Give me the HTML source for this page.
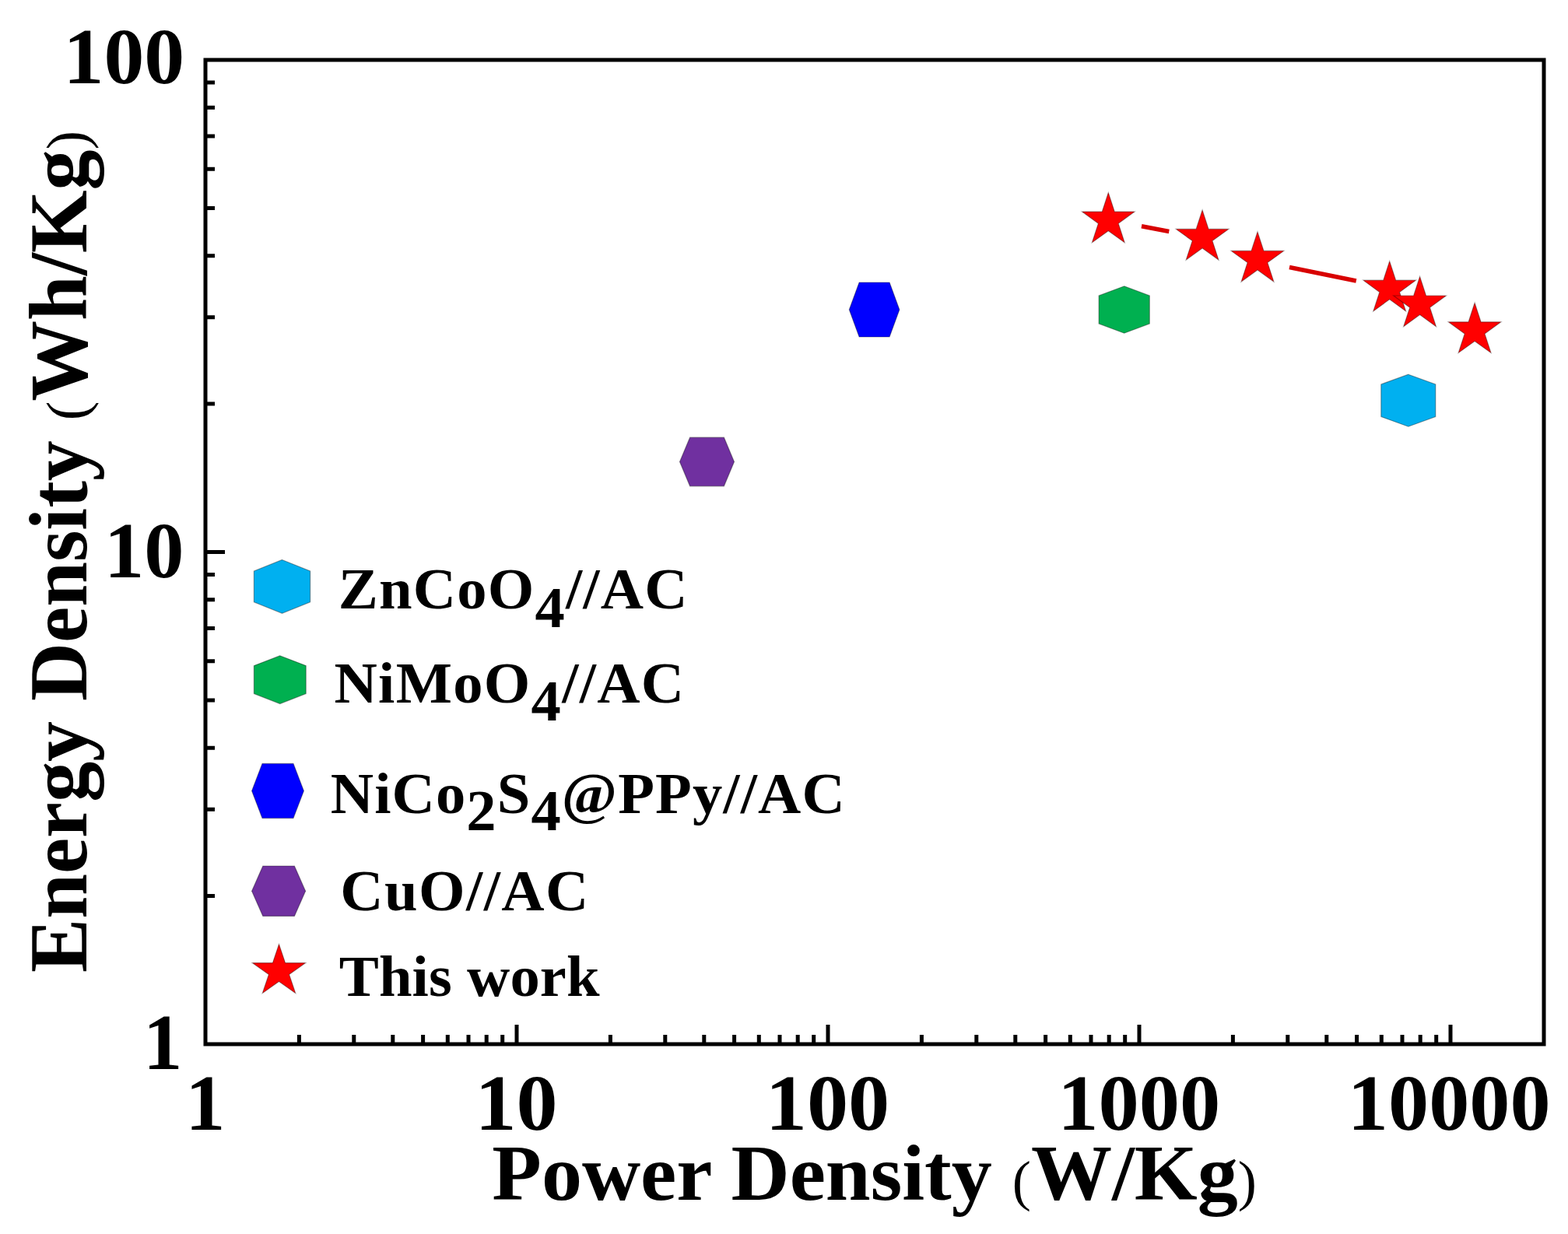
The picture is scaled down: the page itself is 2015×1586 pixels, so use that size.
<!DOCTYPE html>
<html><head><meta charset="utf-8"><title>Energy Density vs Power Density</title>
<style>html,body{margin:0;padding:0;background:#fff;overflow:hidden;}svg{display:block;}</style>
</head><body>
<svg width="2015" height="1586" viewBox="0 0 2015 1586">
<rect x="0" y="0" width="2015" height="1586" fill="#fff"/>
<path d="M384.4 1342V1330 M454.8 1342V1330 M504.8 1342V1330 M543.6 1342V1330 M575.3 1342V1330 M602.0 1342V1330 M625.2 1342V1330 M645.7 1342V1330 M664.0 1342V1317 M784.4 1342V1330 M854.8 1342V1330 M904.8 1342V1330 M943.6 1342V1330 M975.3 1342V1330 M1002.0 1342V1330 M1025.2 1342V1330 M1045.7 1342V1330 M1064.0 1342V1317 M1184.4 1342V1330 M1254.8 1342V1330 M1304.8 1342V1330 M1343.6 1342V1330 M1375.3 1342V1330 M1402.0 1342V1330 M1425.2 1342V1330 M1445.7 1342V1330 M1464.0 1342V1317 M1584.4 1342V1330 M1654.8 1342V1330 M1704.8 1342V1330 M1743.6 1342V1330 M1775.3 1342V1330 M1802.0 1342V1330 M1825.2 1342V1330 M1845.7 1342V1330 M1864.0 1342V1317 M264 1151.6H276 M264 1040.2H276 M264 961.2H276 M264 899.9H276 M264 849.8H276 M264 807.5H276 M264 770.8H276 M264 738.4H276 M264 709.5H289 M264 519.1H276 M264 407.7H276 M264 328.7H276 M264 267.4H276 M264 217.3H276 M264 175.0H276 M264 138.3H276 M264 105.9H276" stroke="#000" stroke-width="5" fill="none"/>
<rect x="264" y="77" width="1720" height="1265" fill="none" stroke="#000" stroke-width="5"/>
<text transform="translate(238.20,1452.30)" x="0" y="0" font-family="'Liberation Serif', serif" font-size="101" font-weight="bold" textLength="51.20" lengthAdjust="spacingAndGlyphs">1</text>
<text transform="translate(610.50,1452.30)" x="0" y="0" font-family="'Liberation Serif', serif" font-size="101" font-weight="bold" textLength="106.14" lengthAdjust="spacingAndGlyphs">10</text>
<text transform="translate(983.79,1452.30)" x="0" y="0" font-family="'Liberation Serif', serif" font-size="101" font-weight="bold" textLength="159.46" lengthAdjust="spacingAndGlyphs">100</text>
<text transform="translate(1359.13,1452.30)" x="0" y="0" font-family="'Liberation Serif', serif" font-size="101" font-weight="bold" textLength="209.05" lengthAdjust="spacingAndGlyphs">1000</text>
<text transform="translate(1731.85,1452.30)" x="0" y="0" font-family="'Liberation Serif', serif" font-size="101" font-weight="bold" textLength="260.72" lengthAdjust="spacingAndGlyphs">10000</text>
<text transform="translate(81.49,107.10)" x="0" y="0" font-family="'Liberation Serif', serif" font-size="101" font-weight="bold" textLength="155.66" lengthAdjust="spacingAndGlyphs">100</text>
<text transform="translate(134.00,741.90)" x="0" y="0" font-family="'Liberation Serif', serif" font-size="101" font-weight="bold" textLength="102.40" lengthAdjust="spacingAndGlyphs">10</text>
<text transform="translate(183.93,1373.90)" x="0" y="0" font-family="'Liberation Serif', serif" font-size="101" font-weight="bold" textLength="50.39" lengthAdjust="spacingAndGlyphs">1</text>
<text transform="translate(632.33,1542.20)" x="0" y="0" font-family="'Liberation Serif', serif" font-size="102" font-weight="bold" textLength="982.65" lengthAdjust="spacingAndGlyphs">Power Density <tspan font-size="71" font-weight="normal">(</tspan>W/Kg<tspan font-size="71" font-weight="normal">)</tspan></text>
<text transform="translate(111.30,1250.08) rotate(-90)" x="0" y="0" font-family="'Liberation Serif', serif" font-size="105" font-weight="bold" textLength="1082.11" lengthAdjust="spacingAndGlyphs">Energy Density <tspan font-size="74.5" font-weight="normal">(</tspan>Wh/Kg<tspan font-size="74.5" font-weight="normal">)</tspan></text>
<g stroke="#d80000" stroke-width="5.5" stroke-linecap="butt">
<line x1="1467" y1="290.8" x2="1502.3" y2="297.5"/>
<line x1="1657" y1="343.5" x2="1742.8" y2="361"/>
</g>
<g stroke="#000" stroke-width="1.2" stroke-opacity="0.35" stroke-linejoin="miter">
<polygon points="1091.3,398.0 1104.1,363.0 1143.1,363.0 1155.9,398.0 1143.1,433.0 1104.1,433.0" fill="#0000ff"/>
<polygon points="873.5,593.5 886.6,562.2 930.4,562.2 943.5,593.5 930.4,624.8 886.6,624.8" fill="#7030a0"/>
<polygon points="1444.7,367.8 1477.3,380.0 1477.3,416.0 1444.7,428.2 1412.1,416.0 1412.1,380.0" fill="#00b050"/>
<polygon points="1809.8,481.2 1844.8,493.9 1844.8,535.5 1809.8,548.2 1774.8,535.5 1774.8,493.9" fill="#00b0f0"/>
<polygon points="1424.3,247.6 1432.3,272.1 1458.1,272.1 1437.2,287.3 1445.2,311.8 1424.3,296.7 1403.4,311.8 1411.4,287.3 1390.5,272.1 1416.3,272.1" fill="#ff0000"/>
<polygon points="1545.1,269.9 1553.1,294.4 1578.9,294.4 1558.0,309.6 1566.0,334.1 1545.1,319.0 1524.2,334.1 1532.2,309.6 1511.3,294.4 1537.1,294.4" fill="#ff0000"/>
<polygon points="1616.0,297.9 1624.0,322.4 1649.8,322.4 1628.9,337.6 1636.9,362.1 1616.0,347.0 1595.1,362.1 1603.1,337.6 1582.2,322.4 1608.0,322.4" fill="#ff0000"/>
<polygon points="1785.7,335.7 1793.7,360.2 1819.5,360.2 1798.6,375.4 1806.6,399.9 1785.7,384.8 1764.8,399.9 1772.8,375.4 1751.9,360.2 1777.7,360.2" fill="#ff0000"/>
<polygon points="1824.6,355.5 1832.6,380.0 1858.4,380.0 1837.5,395.2 1845.5,419.7 1824.6,404.6 1803.7,419.7 1811.7,395.2 1790.8,380.0 1816.6,380.0" fill="#ff0000"/>
<polygon points="1895.1,389.3 1903.1,413.8 1928.9,413.8 1908.0,429.0 1916.0,453.5 1895.1,438.4 1874.2,453.5 1882.2,429.0 1861.3,413.8 1887.1,413.8" fill="#ff0000"/>
<polygon points="362.5,719.5 398.6,734.0 398.6,773.8 362.5,788.3 326.4,773.8 326.4,734.0" fill="#00b0f0"/>
<polygon points="359.8,842.7 393.2,855.6 393.2,891.6 359.8,904.5 326.4,891.6 326.4,855.6" fill="#00b050"/>
<polygon points="323.6,1016.5 337.0,981.4 377.0,981.4 390.4,1016.5 377.0,1051.6 337.0,1051.6" fill="#0000ff"/>
<polygon points="323.6,1145.2 337.8,1113.0 378.4,1113.0 392.6,1145.2 378.4,1177.4 337.8,1177.4" fill="#7030a0"/>
<polygon points="358.5,1213.6 366.6,1237.6 392.7,1237.6 371.6,1252.4 379.7,1276.4 358.5,1261.6 337.3,1276.4 345.4,1252.4 324.3,1237.6 350.4,1237.6" fill="#ff0000"/>
</g>
<text transform="translate(434.84,781.50) scale(1.035,1)" x="0" y="0" font-family="'Liberation Serif', serif" font-size="74" font-weight="bold" textLength="433.53" lengthAdjust="spacing">ZnCoO<tspan dy="24.1">4</tspan><tspan dy="-24.1">//AC</tspan></text>
<text transform="translate(429.54,903.40) scale(1.035,1)" x="0" y="0" font-family="'Liberation Serif', serif" font-size="74" font-weight="bold" textLength="434.39" lengthAdjust="spacing">NiMoO<tspan dy="22.8">4</tspan><tspan dy="-22.8">//AC</tspan></text>
<text transform="translate(424.74,1044.60) scale(1.035,1)" x="0" y="0" font-family="'Liberation Serif', serif" font-size="74" font-weight="bold" textLength="638.74" lengthAdjust="spacing">NiCo<tspan dy="22.6">2</tspan><tspan dy="-22.6">S</tspan><tspan dy="22.6">4</tspan><tspan dy="-22.6">@PPy//AC</tspan></text>
<text transform="translate(437.16,1169.60) scale(1.035,1)" x="0" y="0" font-family="'Liberation Serif', serif" font-size="74" font-weight="bold" textLength="308.48" lengthAdjust="spacing">CuO//AC</text>
<text transform="translate(435.80,1279.60) scale(1.035,1)" x="0" y="0" font-family="'Liberation Serif', serif" font-size="74" font-weight="bold" textLength="323.39" lengthAdjust="spacing">This work</text>
</svg>
</body></html>
